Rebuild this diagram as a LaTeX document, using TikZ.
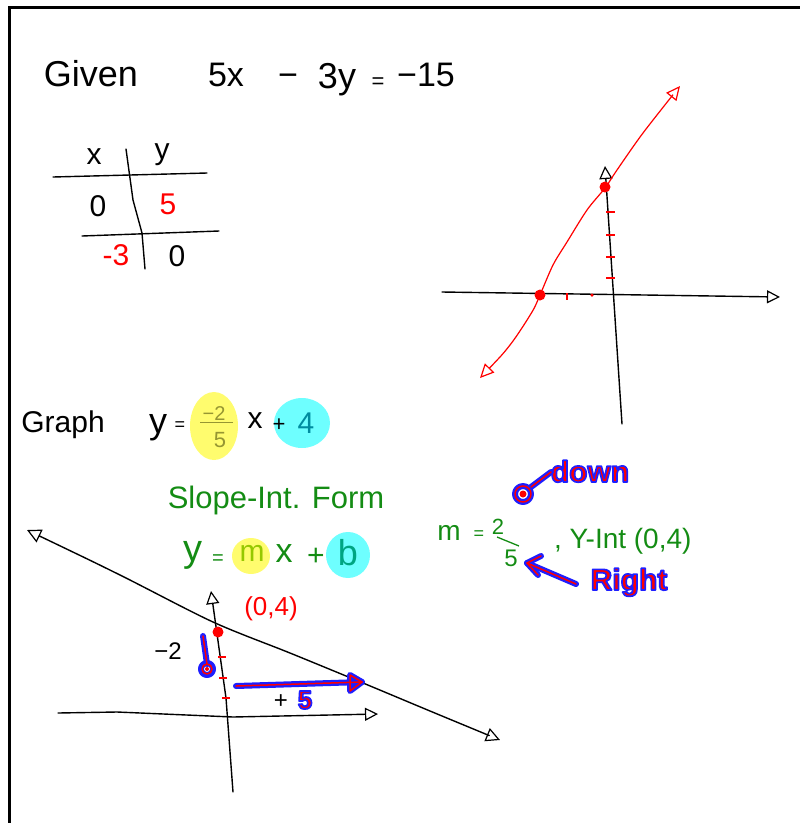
\documentclass[tikz,border=0pt]{standalone}
\usepackage{fontspec}
\setmainfont{Liberation Sans}
\usetikzlibrary{arrows.meta}
\definecolor{pgreen}{RGB}{20,140,20}
\definecolor{hyellow}{RGB}{255,252,110}
\definecolor{hcyan}{RGB}{110,255,255}
\definecolor{olive2}{RGB}{150,150,50}
\definecolor{teal2}{RGB}{0,140,160}
\definecolor{teal3}{RGB}{0,165,130}
\definecolor{mgreen}{RGB}{150,200,0}
\definecolor{hblue}{RGB}{30,30,255}
\newcommand\halo[1]{{\color{red}\special{pdf:literal direct q 0.12 0.12 1 RG 1.7 w 1 j 2 Tr}\bfseries #1\special{pdf:literal direct Q}}}
\begin{document}
\begin{tikzpicture}[x=1pt,y=-1pt,
  every node/.style={inner sep=0pt,outer sep=0pt},
  txt/.style={font=\fontsize{#1}{#1}\selectfont},
  frame/.style={line width=3pt},
  pen/.style={line width=1.4pt,line cap=round,line join=round},
  ax/.style={pen,-{Triangle[open,length=13pt,width=13pt,line width=1.2pt]}},
  biax/.style={pen,{Triangle[open,length=14pt,width=14pt,line width=1.2pt]}-{Triangle[open,length=14pt,width=14pt,line width=1.2pt]}},
  rtick/.style={draw=red,line width=1.2pt},
  dot/.style={circle,fill=red,minimum size=11pt},
  bout/.style={draw=hblue,line width=6pt,line cap=round,line join=round},
  rin/.style={draw=red,line width=1.5pt,line cap=round,line join=round}]
\useasboundingbox (0,0) rectangle (800,823);
% frame
\coordinate (ftl) at (9,7);
\coordinate (ftr) at (800,7);
\coordinate (fbl) at (9,823);
\draw[frame] (ftr) -- (ftl) -- (fbl);

% Given
\node[txt=36,anchor=base] (given) at (91,86) {Given};
\node[txt=34,anchor=base] (e1) at (226,86) {5x};
\node[txt=34,anchor=base] (e2) at (288,86) {−};
\node[txt=36,anchor=base] (e3) at (337,88) {3y};
\node[txt=22,anchor=base] (e4) at (378,88) {=};
\node[txt=34,anchor=base] (e5) at (426,86) {−15};

% table
\node[txt=30] (tx) at (94,157) {x};
\node[txt=30] (ty) at (162,155) {y};
\node[txt=30] (t0a) at (98,206) {0};
\node[txt=30,text=red] (t5) at (168,204) {5};
\node[txt=30,text=red] (tm3) at (116,255) {-3};
\node[txt=30] (t0b) at (177,256) {0};
\coordinate (h1a) at (53,177); \coordinate (h1b) at (207,173);
\coordinate (h2a) at (82,236); \coordinate (h2b) at (219,231);
\coordinate (v1) at (126,149); \coordinate (v2) at (133,200);
\coordinate (v3) at (142,233); \coordinate (v4) at (145,269);
\draw[pen] (h1a) -- (h1b);
\draw[pen] (h2a) -- (h2b);
\draw[pen] (v1) -- (v2) -- (v3) -- (v4);

% top-right graph
\coordinate (xa1) at (442,292); \coordinate (xa2) at (780,297);
\coordinate (ya1) at (622,424); \coordinate (ya2) at (605,166);
\draw[ax] (xa1) -- (xa2);
\draw[ax] (ya1) -- (ya2);
\draw[red,line width=1.2pt,
  {Triangle[open,length=14pt,width=13pt,line width=1.2pt]}-{Triangle[open,length=14pt,width=13pt,line width=1.2pt]}]
  plot[smooth] coordinates {(480,378) (510,345) (532,312) (540,295) (553,265) (567,242) (587,210) (605,188) (617,170) (643,133) (680,86)};
\foreach \yy [count=\i] in {212,235,257,278} {
  \coordinate (tka\i) at (606,\yy); \coordinate (tkb\i) at (615,\yy);
  \draw[rtick] (tka\i) -- (tkb\i);}
\coordinate (xt1a) at (567,293); \coordinate (xt1b) at (567,300);
\draw[rtick,line width=1.6pt] (xt1a) -- (xt1b);
\node[circle,fill=red,minimum size=3.5pt] (xt2) at (592,295) {};
\node[dot] (xint) at (540,295) {};
\node[dot] (yint) at (605,187) {};

% Graph y = -2/5 x + 4
\node[txt=30,anchor=base] (graph) at (63,432) {Graph};
\fill[hyellow] (214,426) ellipse (24 and 34);
\fill[hcyan] (302,423) ellipse (28 and 25);
\node[txt=36,anchor=base] (gy) at (158,433) {y};
\node[txt=18] (geq) at (180,426) {=};
\node[txt=20,text=olive2] (gm2) at (214,414) {−2};
\coordinate (gb1) at (200,422); \coordinate (gb2) at (233,422);
\draw[olive2,line width=1pt] (gb1) -- (gb2);
\node[txt=22,text=olive2] (g5) at (220,440) {5};
\node[txt=30] (gx) at (255,421) {x};
\node[txt=22] (gp) at (279,425) {+};
\node[txt=30,text=teal2] (g4) at (306,423) {4};

% Slope-Int. Form
\node[txt=31,text=pgreen,anchor=base] (sif) at (276,508) {Slope-Int. Form};
\fill[hyellow] (251,556) ellipse (19 and 18);
\fill[hcyan] (348,555) ellipse (22 and 23);
\node[txt=38,text=pgreen] (sy) at (193,555) {y};
\node[txt=20,text=pgreen] (seq) at (218,560) {=};
\node[txt=30,text=mgreen] (sm) at (252,553) {m};
\node[txt=34,text=pgreen] (sx) at (284,554) {x};
\node[txt=30,text=pgreen] (sp) at (316,557) {+};
\node[txt=36,text=teal3] (sb) at (348,553) {b};

% right: m = 2/5 , Y-Int (0,4)
\node[txt=28,text=pgreen] (rm) at (449,533) {m};
\node[txt=18,text=pgreen] (req) at (479,535) {=};
\node[txt=22,text=pgreen] (r2) at (498,527) {2};
\coordinate (rb1) at (497,537); \coordinate (rb2) at (519,546);
\draw[pgreen,line width=1.3pt] (rb1) -- (rb2);
\node[txt=24,text=pgreen] (r5) at (511,558) {5};
\node[txt=28,text=pgreen,anchor=base west] (rint) at (554,548) {, Y-Int (0,4)};
% down
\node[txt=30,anchor=base] (down) at (590,482) {\halo{down}};
\coordinate (lc) at (523,494);
\coordinate (lk1) at (531,487); \coordinate (lk2) at (551,472);
\draw[bout] (lc) circle (8);
\draw[bout] (lk1) -- (lk2);
\fill[red] (lc) circle (3.5);
\draw[rin] (lc) circle (8);
\draw[rin] (lk1) -- (lk2);
% Right
\node[txt=30,anchor=base] (right) at (629,590) {\halo{Right}};
\coordinate (ra1) at (576,584); \coordinate (ra2) at (527,563);
\coordinate (rh1) at (541,556); \coordinate (rh2) at (538,575);
\draw[bout] (ra1) -- (ra2);
\draw[bout] (rh1) -- (ra2) -- (rh2);
\draw[rin] (ra1) -- (ra2);
\draw[rin] (rh1) -- (ra2) -- (rh2);

% bottom graph
\coordinate (bxa1) at (58,713); \coordinate (bxa2) at (378,714);
\coordinate (bya1) at (233,792); \coordinate (bya2) at (211,591);
\draw[ax] (bxa1) -- (117,712) -- (233,717) -- (bxa2);
\draw[ax] (bya1) -- (226,698) -- (bya2);
\coordinate (bl1) at (27,530); \coordinate (bl2) at (500,740);
\draw[biax] plot[smooth] coordinates {(27,530) (120,575) (213,622) (290,653) (363,683) (430,711) (500,740)};
\foreach \yy/\xx [count=\i] in {657/222,678/223,698/226} {
  \coordinate (bta\i) at (\xx-4,\yy); \coordinate (btb\i) at (\xx+4,\yy);
  \draw[rtick] (bta\i) -- (btb\i);}
\node[dot] (bint) at (218,632) {};
\node[txt=26,text=red] (b04) at (271,609) {(0,4)};
\node[txt=24] (bm2) at (168,651) {−2};
% down arrow
\coordinate (da1) at (203,636); \coordinate (da2) at (207,664);
\draw[bout] (da1) -- (da2);
\draw[bout] (207,669) circle (6);
\draw[rin] (da1) -- (da2);
\draw[rin] (207,669) circle (5);
\fill[red] (207,669) circle (2);
% right arrow
\coordinate (rr1) at (236,686); \coordinate (rr2) at (362,682);
\coordinate (rt1) at (350,675); \coordinate (rt2) at (350,691);
\draw[bout] (rr1) -- (rr2);
\draw[bout] (rt1) -- (rr2) -- (rt2) -- cycle;
\draw[rin] (rr1) -- (rr2);
\draw[rin] (rt1) -- (rr2) -- (rt2) -- cycle;
\node[txt=24] (bplus) at (281,702) {+};
\node[txt=26] (b5) at (305,700) {\halo{5}};
\end{tikzpicture}
\end{document}
